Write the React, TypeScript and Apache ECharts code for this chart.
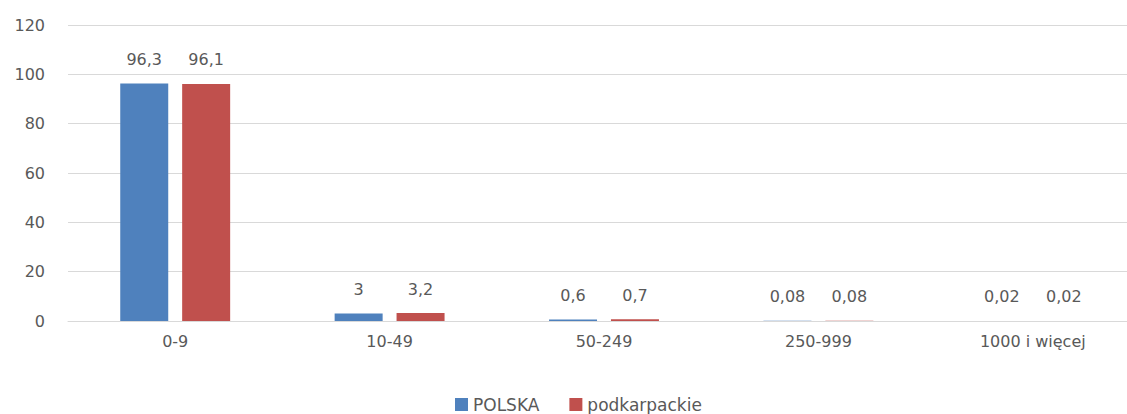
import React, { useEffect, useRef } from "react";
import * as echarts from "echarts";

const categories = ["0-9", "10-49", "50-249", "250-999", "1000 i więcej"];
const polska = [96.3, 3, 0.6, 0.08, 0.02];
const podkarpackie = [96.1, 3.2, 0.7, 0.08, 0.02];
const yTicks = { min: 0, max: 120, interval: 20 };

const FONT = "DejaVu Sans";
const TEXT = "#595959";

export default function App() {
  const ref = useRef<HTMLDivElement>(null);
  useEffect(() => {
    if (!ref.current) return;
    const chart = echarts.init(ref.current, undefined, { renderer: "svg" });
    const label = {
      show: true,
      position: "top",
      distance: 16,
      color: TEXT,
      fontFamily: FONT,
      fontSize: 16,
      formatter: (p: any) => String(p.value).replace(".", ","),
    };
    chart.setOption({
      animation: false,
      backgroundColor: "#ffffff",
      textStyle: { fontFamily: FONT, color: TEXT },
      grid: { left: 68, right: 0, top: 25, bottom: 93 },
      legend: {
        left: 450,
        top: 391,
        itemWidth: 13,
        itemHeight: 13,
        itemGap: 30,
        icon: "rect",
        textStyle: { color: TEXT, fontFamily: FONT, fontSize: 17 },
        data: ["POLSKA", "podkarpackie"],
      },
      xAxis: {
        type: "category",
        data: categories,
        axisLine: { lineStyle: { color: "#d9d9d9" } },
        axisTick: { show: false },
        axisLabel: { color: TEXT, fontFamily: FONT, fontSize: 16, margin: 12 },
      },
      yAxis: {
        type: "value",
        min: yTicks.min,
        max: yTicks.max,
        interval: yTicks.interval,
        axisLine: { show: false },
        axisTick: { show: false },
        splitLine: { lineStyle: { color: "#d9d9d9" } },
        axisLabel: { color: TEXT, fontFamily: FONT, fontSize: 16, margin: 23 },
      },
      series: [
        {
          name: "POLSKA",
          type: "bar",
          data: polska,
          barWidth: 48,
          barGap: "29%",
          itemStyle: { color: "#4F81BD" },
          label,
        },
        {
          name: "podkarpackie",
          type: "bar",
          data: podkarpackie,
          barWidth: 48,
          itemStyle: { color: "#C0504D" },
          label,
        },
      ],
    });
    return () => chart.dispose();
  }, []);
  return (
    <div
      ref={ref}
      style={{ position: "fixed", left: 0, top: 0, width: 1140, height: 414 }}
    />
  );
}
